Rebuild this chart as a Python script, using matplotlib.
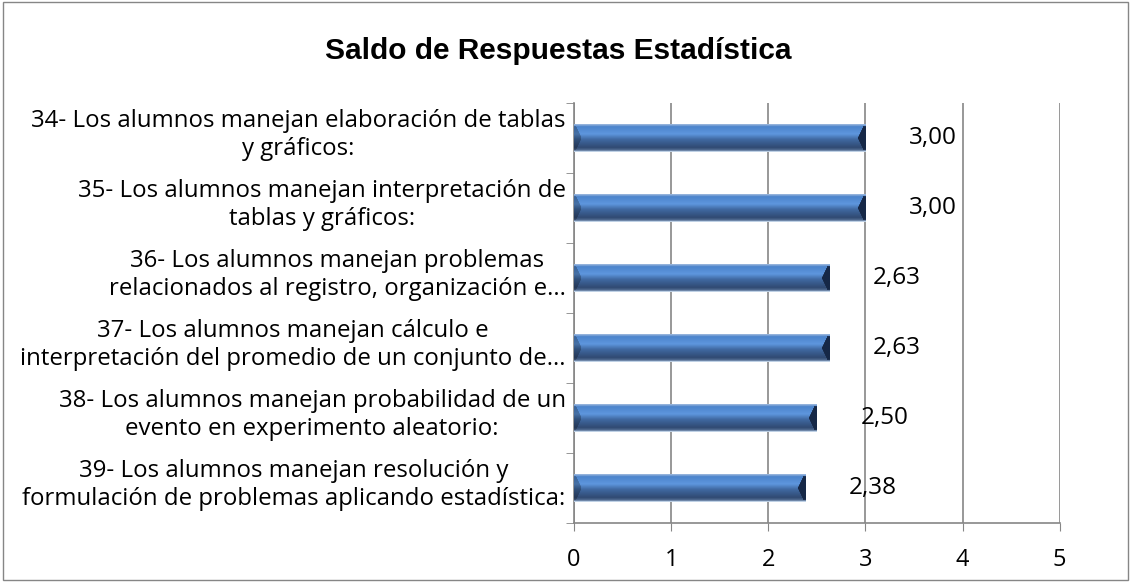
import numpy as np
import matplotlib.pyplot as plt
from matplotlib.patches import Rectangle
from matplotlib.transforms import blended_transform_factory

# chart data
labels = [
    "34- Los alumnos manejan elaboración de tablas\ny gráficos:",
    "35- Los alumnos manejan interpretación de\ntablas y gráficos:",
    "36- Los alumnos manejan problemas\nrelacionados al registro, organización e...",
    "37- Los alumnos manejan cálculo e\ninterpretación del promedio de un conjunto de...",
    "38- Los alumnos manejan probabilidad de un\nevento en experimento aleatorio:",
    "39- Los alumnos manejan resolución y\nformulación de problemas aplicando estadística:",
]
values = [3.00, 3.00, 2.63, 2.63, 2.50, 2.38]
title = "Saldo de Respuestas Estadística"
x_ticks = [0, 1, 2, 3, 4, 5]

gray = "#868686"
font = "Open Sans"

fig = plt.figure(figsize=(11.31, 5.82), dpi=100)
ax = fig.add_axes([0.5075, 0.1014, 0.4295, 0.7216])

# vertical shading of the bevelled bars
rows = 27
t = np.linspace(0, 1, rows)
stops_t = [0.0, 0.08, 0.35, 0.55, 0.85, 0.95, 1.0]
stops_c = np.array([
    [0.58, 0.70, 0.86],
    [0.30, 0.52, 0.80],
    [0.37, 0.59, 0.87],
    [0.25, 0.41, 0.63],
    [0.19, 0.29, 0.45],
    [0.32, 0.42, 0.57],
    [0.75, 0.82, 0.90],
])
col = np.stack([np.interp(t, stops_t, stops_c[:, k]) for k in range(3)], axis=1)
dist = np.abs(t - 0.5) / 0.5

n = len(values)
ypos = np.arange(n)[::-1]
h = 0.39
px_per_unit = 97.3
for y, v in zip(ypos, values):
    cols = int(v * px_per_unit)
    img = np.repeat(col[:, None, :], cols, axis=1)
    cc = np.arange(cols)[None, :]
    right = (cols - cc) < (2 + 7 * (1 - dist[:, None]))
    left = cc < (1 + 6 * (1 - dist[:, None]))
    inner = (dist[:, None] < 0.9)
    img[right & inner] = [0.09, 0.16, 0.28]
    img[left & inner] *= 0.75
    ax.imshow(img, extent=(0, v, y - h / 2, y + h / 2), aspect="auto",
              interpolation="bilinear", zorder=3)
    ax.text(v + 0.45, y, f"{v:.2f}".replace(".", ","), va="center", ha="left",
            fontsize=17.5, family=font, color="black", zorder=5)

ax.set_xlim(0, 5)
ax.set_ylim(-0.5, n - 0.5)
ax.set_xticks(x_ticks)
ax.set_xticklabels([str(v) for v in x_ticks], fontsize=17, family=font)
ax.set_yticks([])
ax.set_yticks(np.arange(-0.5, n, 1), minor=True)
ax.tick_params(axis="y", which="minor", length=6, color=gray, direction="out")
ax.tick_params(axis="x", which="major", length=6, color=gray, direction="out", pad=12)

# category labels, centred lines, right edge just left of the axis
tr = blended_transform_factory(ax.transAxes, ax.transData)
for y, lab in zip(ypos, labels):
    ax.text(-0.017, y + 0.04, lab, transform=tr, ha="right", va="center",
            multialignment="center", fontsize=17.3, family=font,
            linespacing=1.2)

ax.grid(axis="x", color=gray, lw=1.2, zorder=1)
for s in ["top", "right"]:
    ax.spines[s].set_visible(False)
for s in ["left", "bottom"]:
    ax.spines[s].set_color(gray)
    ax.spines[s].set_linewidth(1.2)

fig.text(0.494, 0.912, title, ha="center", va="center", fontsize=21.5,
         fontweight="bold", family="Liberation Sans")

fig.patches.append(Rectangle((0.003, 0.004), 0.994, 0.992, transform=fig.transFigure,
                             fill=False, edgecolor=gray, lw=1))

fig.savefig("out.png", dpi=100)
